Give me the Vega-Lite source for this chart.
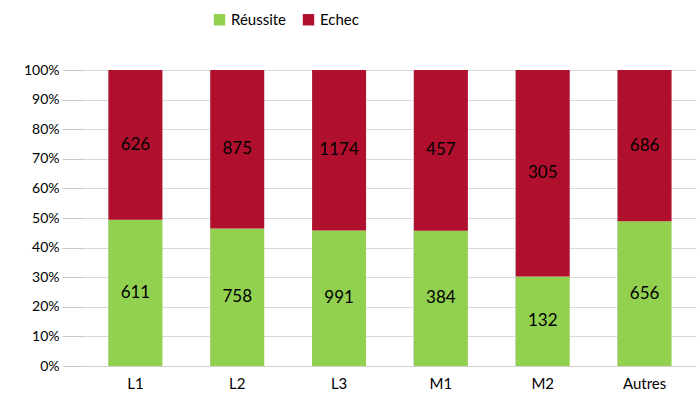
{
  "$schema": "https://vega.github.io/schema/vega-lite/v6.json",
  "width": 612,
  "height": 296,
  "autosize": "none",
  "padding": {"left": 84, "top": 70, "right": 1, "bottom": 35},
  "background": "white",
  "config": {
    "font": "Lato",
    "view": {"stroke": null},
    "axis": {"labelFont": "Lato", "labelColor": "#000000"}
  },
  "data": {
    "values": [
      {"niveau": "L1", "statut": "Réussite", "effectif": 611},
      {"niveau": "L1", "statut": "Echec", "effectif": 626},
      {"niveau": "L2", "statut": "Réussite", "effectif": 758},
      {"niveau": "L2", "statut": "Echec", "effectif": 875},
      {"niveau": "L3", "statut": "Réussite", "effectif": 991},
      {"niveau": "L3", "statut": "Echec", "effectif": 1174},
      {"niveau": "M1", "statut": "Réussite", "effectif": 384},
      {"niveau": "M1", "statut": "Echec", "effectif": 457},
      {"niveau": "M2", "statut": "Réussite", "effectif": 132},
      {"niveau": "M2", "statut": "Echec", "effectif": 305},
      {"niveau": "Autres", "statut": "Réussite", "effectif": 656},
      {"niveau": "Autres", "statut": "Echec", "effectif": 686}
    ]
  },
  "encoding": {
    "x": {
      "field": "niveau",
      "type": "nominal",
      "sort": ["L1", "L2", "L3", "M1", "M2", "Autres"],
      "scale": {"paddingInner": 0.47, "paddingOuter": 0.24},
      "axis": {
        "title": null,
        "labelAngle": 0,
        "labelFontSize": 15,
        "labelPadding": 10,
        "ticks": false,
        "domain": true,
        "domainColor": "#d0d0d0",
        "grid": false,
        "orient": "bottom"
      }
    },
    "y": {
      "field": "effectif",
      "type": "quantitative",
      "stack": "normalize",
      "scale": {"domain": [0, 1]},
      "axis": {
        "title": null,
        "format": "%",
        "values": [0, 0.1, 0.2, 0.3, 0.4, 0.5, 0.6, 0.7, 0.8, 0.9, 1],
        "labelFontSize": 14,
        "labelPadding": 3,
        "tickSize": 22,
        "tickColor": "#c8c8c8",
        "domain": false,
        "grid": true,
        "gridColor": "#d9d9d9"
      }
    },
    "order": {"field": "statut", "sort": "descending"}
  },
  "layer": [
    {
      "mark": {"type": "bar"},
      "encoding": {
        "x": {
          "field": "niveau",
          "type": "nominal",
          "sort": ["L1", "L2", "L3", "M1", "M2", "Autres"],
          "axis": {
            "title": null,
            "orient": "bottom",
            "labels": false,
            "ticks": false,
            "domain": false,
            "grid": true,
            "gridColor": "#d9d9d9",
            "bandPosition": 0
          }
        },
        "color": {
          "field": "statut",
          "type": "nominal",
          "scale": {"domain": ["Réussite", "Echec"], "range": ["#92D050", "#B0102E"]},
          "legend": {
            "title": null,
            "orient": "none",
            "direction": "horizontal",
            "legendX": 128,
            "legendY": -58,
            "symbolType": "square",
            "symbolSize": 130,
            "symbolStrokeWidth": 0,
            "labelFontSize": 15,
            "labelFont": "Lato",
            "labelColor": "#000000",
            "columnPadding": 14
          }
        }
      }
    },
    {
      "mark": {"type": "text", "fontSize": 17, "color": "#000000", "baseline": "middle"},
      "encoding": {
        "y": {"field": "effectif", "type": "quantitative", "stack": "normalize", "bandPosition": 0.5},
        "text": {"field": "effectif", "type": "quantitative"}
      }
    }
  ],
  "resolve": {"axis": {"x": "independent"}}
}
